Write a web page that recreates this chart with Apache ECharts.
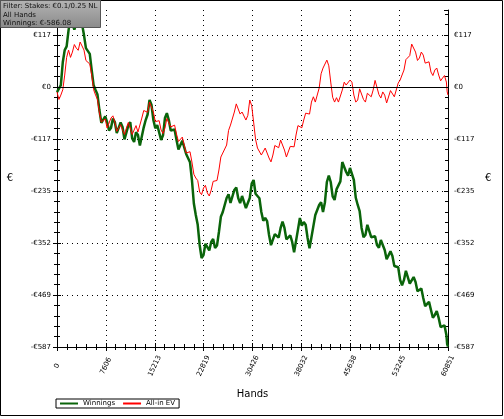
<!DOCTYPE html>
<html><head><meta charset="utf-8">
<script src="https://cdn.jsdelivr.net/npm/echarts@6/dist/echarts.min.js"></script>
<style>html,body{margin:0;padding:0;background:#fff}#c{width:504px;height:419px}</style>
</head><body><div id="c"></div>
<script>
const hands = [];
for (let i = 0; i <= 202; i++) hands.push(i * 300);
hands.push(60725, 60851);
const winnings = [
-11.3,-13,4.5,56,83.5,92,128.6,155,151.2,130,133.2,156,146.7,142,117.4,88,83.5,75,38.4,4,
-6.8,-17,-51.9,-81,-81.3,-66,-79,-98,-92.5,-71,-79,-104,-101.6,-80,-90.3,-118,-115.1,-87,-79,-116,
-124.1,-102,-108.3,-132,-130.9,-91,-74.5,-62,-29.3,-40,-74.5,-93,-85.8,-90,-119.6,-109,-70,-59,-74.5,-98,
-97,-96,-119.6,-141,-142.2,-121,-124.1,-151,-153.5,-170,-209.9,-263,-288.9,-311,-356.6,-386,-379.2,-354,-356.6,-369,
-349.8,-343,-363.4,-358,-327.3,-293,-282.1,-279,-250.5,-242,-261.8,-259,-232.4,-227,-250.5,-262,-246,-247,-273.1,-274,
-250.5,-218,-209.9,-241,-243.8,-251,-282.1,-302,-295.7,-303,-334,-357,-356.6,-332,-336.3,-340,-318.2,-304,-318.2,-344,
-345.3,-335,-349.8,-373,-372.4,-322,-295.7,-313,-304.7,-311,-340.8,-364,-363.4,-314,-288.9,-291,-266.3,-260,-282.1,-260,
-214.4,-200,-214.4,-247,-255,-231,-232.4,-213,-169.3,-168,-191.8,-200,-182.8,-184,-209.9,-250,-266.3,-280,-318.2,-339,
-334,-311,-313.7,-339,-340.8,-337,-356.6,-363,-345.3,-344,-367.9,-389,-385.9,-371,-381.4,-404,-401.7,-407,-435.6,-448,
-435.6,-415,-417.5,-444,-444.6,-429,-440.1,-461,-458.2,-455,-476.2,-495,-489.8,-485,-503.3,-521,-514.6,-506,-521.4,-542,
-539.4,-538,-559.8,-581,-586.08];
const allInEV = [
-11.3,-28,-18.1,-6,27.1,67,83.5,67,79,96,88,83,101.6,105,83.5,60,56.4,52,27.1,-6,
-18.1,-28,-58.7,-79,-74.5,-72,-92.5,-93,-70,-65,-79,-100,-97,-85,-97,-107,-92.5,-80,-92.5,-107,
-97,-87,-101.6,-98,-70,-53,-56.4,-57,-33.9,-35,-56.4,-78,-79,-76,-97,-105,-92.5,-71,-70,-90,
-85.8,-86,-106.1,-123,-119.6,-113,-130.9,-149,-146.7,-146,-169.3,-197,-205.4,-211,-237,-243,-228,-222,-239.3,-246,
-232.4,-213,-214.4,-211,-187.3,-158,-149,-152,-130.9,-98,-85.8,-83,-56.4,-38,-40.6,-61,-56.4,-53,-74.5,-64,
-29.3,-42,-79,-118,-137.7,-136,-153.5,-158,-137.7,-139,-160.2,-169,-153.5,-132,-130.9,-137,-119.6,-119,-142.2,-158,
-153.5,-134,-137.7,-135,-108.3,-87,-85.8,-92,-74.5,-59,-63.2,-61,-33.9,-22,-33.9,-30,-2.3,30,42.9,42,
60.9,48,11.3,-23,-33.9,-24,-33.9,-32,-6.8,11,4.5,0,15.8,11,-18.1,-34,-29.3,-4,-2.3,-28,
-33.9,-14,-18.1,-22,-6.8,15,15.8,-17,-24.8,-11,-18.1,-36,-33.9,-8,-6.8,-22,-18.1,9,15.8,17,
38.4,62,65.5,71,97.1,100,79,60,65.5,79,72.2,54,56.4,57,33.9,26,38.4,43,27.1,14,
20.3,26,11.3,-11,-18.1];
const xTickLabels = ['0','7606','15213','22819','30426','38032','45638','53245','60851'];
const yTickValues = [-587,-469.6,-352.2,-234.8,-117.4,0,117.4];
const yTickLabels = ['-€587','-€469','-€352','-€235','-€117','€0','€117'];
const seriesNames = ['Winnings','All-in EV'];
const infoLines = ['Filter: Stakes: €0.1/0.25 NL','All Hands','Winnings: €-586.08'];

const FONT = 'DejaVu Sans';
const X_MIN = 0, X_MAX = 60851, X_INT = 60851/8;
const Y_MIN = -587, Y_MAX = 174, Y_INT = 117.4;
function yLab(v){let best=0,d=1e9;yTickValues.forEach((t,i)=>{if(Math.abs(t-v)<d){d=Math.abs(t-v);best=i;}});return d<1?yTickLabels[best]:'';}
function xLab(v){return xTickLabels[Math.round(v/X_INT)];}

const yBase = {type:'value',min:Y_MIN,max:Y_MAX,interval:Y_INT,
  axisLine:{show:true,lineStyle:{color:'#000',width:1}},
  minorTick:{show:true,splitNumber:5,length:3,lineStyle:{color:'#000'}},
  axisTick:{show:true,length:4,lineStyle:{color:'#000'}}};
const xBase = {type:'value',min:X_MIN,max:X_MAX,interval:X_INT,
  axisLine:{show:true,onZero:false,lineStyle:{color:'#000',width:1}},
  minorTick:{show:true,splitNumber:5,length:3,lineStyle:{color:'#000'}},
  axisTick:{show:true,length:4,lineStyle:{color:'#000'}}};

const chart = echarts.init(document.getElementById('c'));
chart.setOption({
  animation:false,
  backgroundColor:'#fff',
  grid:{left:57,right:56,top:10,bottom:72,containLabel:false},
  xAxis:[
    Object.assign({},xBase,{position:'bottom',name:'Hands',nameLocation:'middle',nameGap:42,
      nameTextStyle:{fontFamily:FONT,fontSize:10,color:'#000'},
      axisLabel:{rotate:65,fontFamily:FONT,fontSize:7,color:'#000',margin:19,align:'center',verticalAlign:'middle',formatter:xLab},
      splitLine:{show:true,lineStyle:{color:'#000',type:[1,4],width:1}}}),
    Object.assign({},xBase,{position:'bottom',axisTick:{show:true,inside:true,length:4,lineStyle:{color:'#000'}},
      axisLabel:{show:false},splitLine:{show:false}}),
    {type:'value',min:X_MIN,max:X_MAX,position:'top',axisLine:{show:true,lineStyle:{color:'#000',type:[1,4]}},
      axisTick:{show:false},axisLabel:{show:false},splitLine:{show:false}}
  ],
  yAxis:[
    Object.assign({},yBase,{position:'left',name:'€',nameLocation:'middle',nameGap:44,nameRotate:0,
      nameTextStyle:{fontFamily:FONT,fontSize:10,color:'#000'},
      axisLabel:{fontFamily:FONT,fontSize:7,color:'#000',margin:6,formatter:yLab,showMaxLabel:false},
      splitLine:{show:true,showMaxLine:false,lineStyle:{color:'#000',type:[1,4],width:1}}}),
    Object.assign({},yBase,{position:'left',axisTick:{show:true,inside:true,length:4,lineStyle:{color:'#000'}},
      axisLabel:{show:false},splitLine:{show:false}}),
    Object.assign({},yBase,{position:'right',name:'€',nameLocation:'middle',nameGap:37,nameRotate:0,
      nameTextStyle:{fontFamily:FONT,fontSize:10,color:'#000'},
      axisLabel:{fontFamily:FONT,fontSize:7,color:'#000',margin:6,formatter:yLab,showMaxLabel:false},splitLine:{show:false}}),
    Object.assign({},yBase,{position:'right',axisTick:{show:true,inside:true,length:4,lineStyle:{color:'#000'}},
      axisLabel:{show:false},splitLine:{show:false}})
  ],
  legend:{left:56,top:399,orient:'horizontal',borderColor:'#000',borderWidth:1,borderRadius:0,
    padding:[1,4],itemGap:8,itemWidth:18,itemHeight:2,icon:'rect',
    textStyle:{fontFamily:FONT,fontSize:7,color:'#000'},data:seriesNames},
  series:[
    {name:seriesNames[0],type:'line',showSymbol:false,symbol:'none',data:hands.map((h,i)=>[h,winnings[i]]),
      lineStyle:{color:'#0a640a',width:2.5},itemStyle:{color:'#0a640a'},
      markLine:{silent:true,symbol:'none',label:{show:false},lineStyle:{color:'#000',type:'solid',width:1},data:[{yAxis:0}]}},
    {name:seriesNames[1],type:'line',showSymbol:false,symbol:'none',data:hands.map((h,i)=>[h,allInEV[i]]),
      lineStyle:{color:'#ff0000',width:1},itemStyle:{color:'#ff0000'}}
  ],
  graphic:[
    {type:'rect',shape:{x:0.5,y:0.5,width:502,height:415},style:{fill:'none',stroke:'#000',lineWidth:1},z:100},
    {type:'rect',shape:{x:0.5,y:0.5,width:100,height:27},
      style:{fill:new echarts.graphic.LinearGradient(0,0,0,1,[{offset:0,color:'#b4b4b4'},{offset:1,color:'#8a8a8a'}]),stroke:'#555',lineWidth:1},z:101},
    {type:'text',left:3,top:2,style:{text:infoLines.join('\n'),font:'7px '+FONT,fill:'#111',lineHeight:8.5},z:102}
  ]
});
</script></body></html>
